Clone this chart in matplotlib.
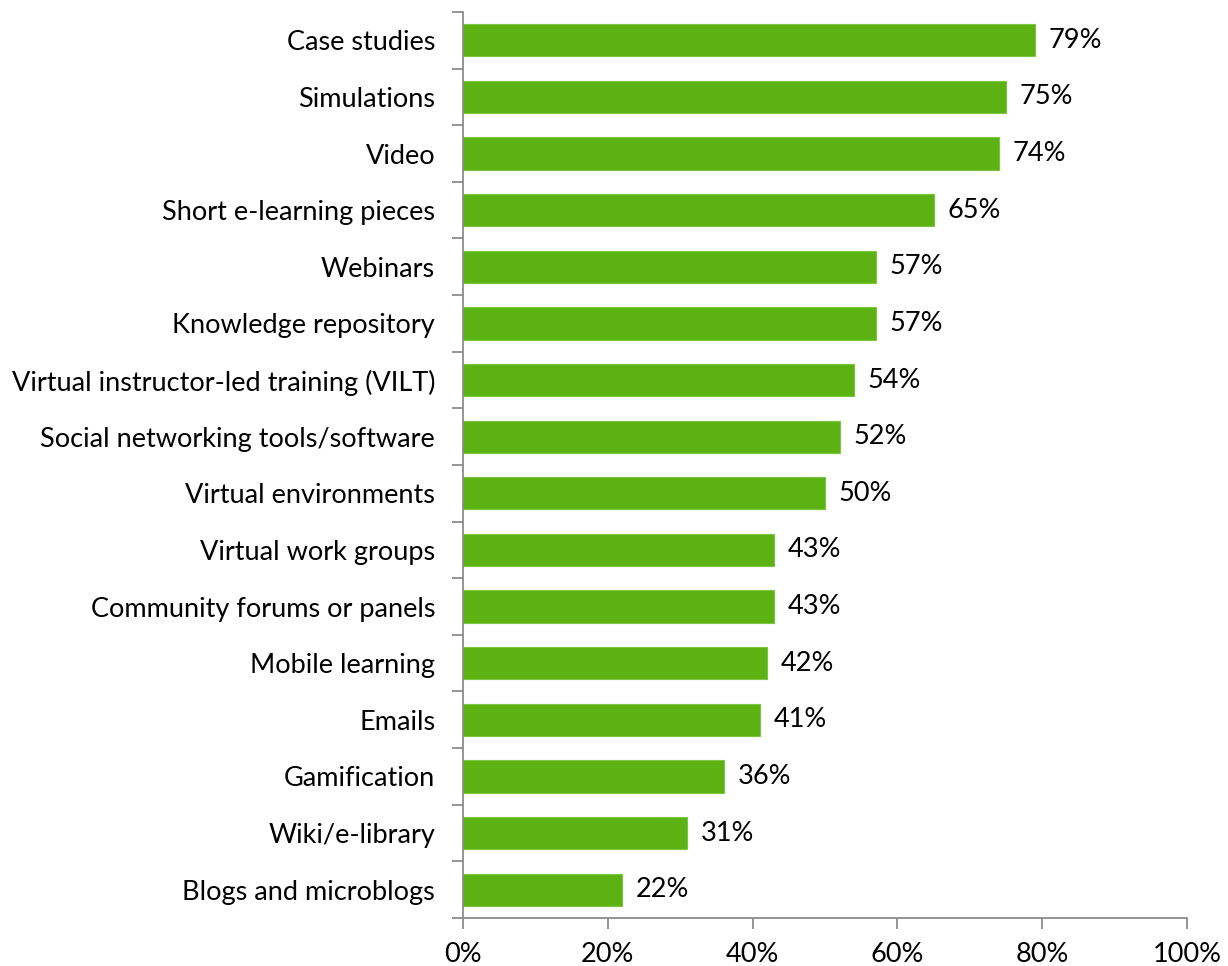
import matplotlib
matplotlib.use("Agg")
import matplotlib.pyplot as plt
import numpy as np

plt.rcParams['font.family'] = ['Lato', 'DejaVu Sans']

# delivery methods, top to bottom
categories = [
    "Case studies", "Simulations", "Video", "Short e-learning pieces",
    "Webinars", "Knowledge repository", "Virtual instructor-led training (VILT)",
    "Social networking tools/software", "Virtual environments",
    "Virtual work groups", "Community forums or panels", "Mobile learning",
    "Emails", "Gamification", "Wiki/e-library", "Blogs and microblogs",
]
values = [79, 75, 74, 65, 57, 57, 54, 52, 50, 43, 43, 42, 41, 36, 31, 22]
xticks = [0, 20, 40, 60, 80, 100]

bar_color = "#5BB212"
axis_color = "#8C8C8C"
fs = 19.5

fig = plt.figure(figsize=(12.28, 9.66), dpi=100)
ax = fig.add_axes([0.377, 0.0497, 0.5897, 0.9379])

n = len(categories)
ypos = np.arange(n)[::-1]
ax.barh(ypos, values, height=0.57, color=bar_color, edgecolor="#7CC63F", linewidth=0.8)

for y, v in zip(ypos, values):
    ax.text(v + 1.9, y, f"{v}%", va="center", ha="left", fontsize=fs, color="black")

ax.set_xlim(0, 100)
ax.set_ylim(-0.5, n - 0.5)

# category labels sit between the boundary ticks
ax.set_yticks(np.arange(-0.5, n, 1.0))
ax.set_yticklabels([])
ax.set_yticks(ypos, labels=categories, minor=True)
ax.tick_params(axis="y", which="major", length=8, width=1.3, color=axis_color, direction="out")
ax.tick_params(axis="y", which="minor", length=0, pad=20, labelsize=fs)

ax.set_xticks(xticks)
ax.set_xticklabels([f"{t}%" for t in xticks])
ax.tick_params(axis="x", length=8, width=1.3, color=axis_color, pad=9, labelsize=fs)

for s in ["top", "right"]:
    ax.spines[s].set_visible(False)
for s in ["left", "bottom"]:
    ax.spines[s].set_color(axis_color)
    ax.spines[s].set_linewidth(1.3)

fig.savefig("out.png", dpi=100)
